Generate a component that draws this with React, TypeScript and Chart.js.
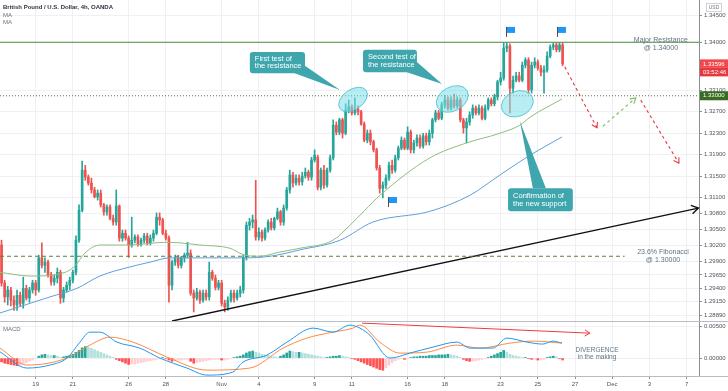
import React, { useEffect, useRef } from "react";
import { Chart, registerables } from "chart.js";

Chart.register(...registerables);

// ---------------- data ----------------
// candle index: 0 = Oct 19 00:00, six 4h bars per trading day
const firstCandle = -11;
// [open, high, low, close]
const candles: number[][] = [
  [1.3021, 1.3030, 1.2944, 1.2950], [1.2950, 1.2955, 1.2914, 1.2924], [1.2924, 1.2944, 1.2909, 1.2937],
  [1.2937, 1.2942, 1.2907, 1.2918], [1.2918, 1.2926, 1.2899, 1.2909], [1.2909, 1.2937, 1.2899, 1.2927],
  [1.2927, 1.2933, 1.2907, 1.2912], [1.2912, 1.2961, 1.2903, 1.2940], [1.2940, 1.2946, 1.2918, 1.2922],
  [1.2922, 1.2942, 1.2914, 1.2937], [1.2937, 1.2955, 1.2931, 1.2950],
  // Oct 19
  [1.2950, 1.2955, 1.2927, 1.2937], [1.2937, 1.3002, 1.2933, 1.2997], [1.2997, 1.3025, 1.2978, 1.2983],
  [1.2983, 1.2997, 1.2970, 1.2989], [1.2989, 1.2993, 1.2961, 1.2965], [1.2965, 1.2970, 1.2946, 1.2952],
  [1.2952, 1.2965, 1.2946, 1.2959], [1.2959, 1.2978, 1.2950, 1.2970], [1.2970, 1.2974, 1.2912, 1.2922],
  [1.2922, 1.2942, 1.2914, 1.2937], [1.2937, 1.2952, 1.2933, 1.2946], [1.2946, 1.2961, 1.2937, 1.2955],
  // Oct 21
  [1.2955, 1.2974, 1.2950, 1.2970], [1.2970, 1.3038, 1.2965, 1.3030], [1.3030, 1.3096, 1.3026, 1.3086],
  [1.3086, 1.3178, 1.3083, 1.3161], [1.3161, 1.3170, 1.3142, 1.3148], [1.3148, 1.3152, 1.3133, 1.3137],
  [1.3137, 1.3146, 1.3118, 1.3124], [1.3124, 1.3129, 1.3109, 1.3111], [1.3111, 1.3124, 1.3105, 1.3118],
  [1.3118, 1.3124, 1.3092, 1.3096], [1.3096, 1.3099, 1.3077, 1.3083], [1.3083, 1.3096, 1.3077, 1.3092],
  [1.3092, 1.3096, 1.3068, 1.3071], [1.3071, 1.3077, 1.3058, 1.3064], [1.3064, 1.3124, 1.3058, 1.3094],
  [1.3094, 1.3096, 1.3028, 1.3034], [1.3034, 1.3049, 1.3028, 1.3043], [1.3043, 1.3049, 1.3030, 1.3034],
  // Oct 26
  [1.3034, 1.3038, 1.2998, 1.3021], [1.3021, 1.3073, 1.3017, 1.3030], [1.3030, 1.3040, 1.3025, 1.3036],
  [1.3036, 1.3040, 1.3019, 1.3023], [1.3023, 1.3034, 1.3019, 1.3030], [1.3030, 1.3043, 1.3025, 1.3038],
  [1.3038, 1.3043, 1.3021, 1.3025], [1.3025, 1.3040, 1.3021, 1.3034], [1.3034, 1.3049, 1.3028, 1.3043],
  [1.3043, 1.3081, 1.3040, 1.3073], [1.3073, 1.3081, 1.3058, 1.3068], [1.3068, 1.3071, 1.3040, 1.3043],
  // Oct 28
  [1.3043, 1.3049, 1.3030, 1.3034], [1.3034, 1.3038, 1.2914, 1.2946], [1.2946, 1.2993, 1.2937, 1.2989],
  [1.2989, 1.3002, 1.2983, 1.2997], [1.2997, 1.3002, 1.2978, 1.2983], [1.2983, 1.3000, 1.2978, 1.2997],
  [1.2997, 1.3006, 1.2989, 1.3002], [1.3002, 1.3026, 1.2997, 1.3006], [1.3006, 1.3012, 1.2927, 1.2931],
  [1.2931, 1.2937, 1.2896, 1.2922], [1.2922, 1.2940, 1.2918, 1.2933], [1.2933, 1.2937, 1.2912, 1.2918],
  [1.2918, 1.2937, 1.2914, 1.2931], [1.2931, 1.2937, 1.2918, 1.2924], [1.2924, 1.2989, 1.2918, 1.2970],
  [1.2970, 1.2974, 1.2955, 1.2959], [1.2959, 1.2965, 1.2937, 1.2942], [1.2942, 1.2955, 1.2937, 1.2950],
  // Nov 2
  [1.2950, 1.2955, 1.2907, 1.2912], [1.2912, 1.2918, 1.2896, 1.2905], [1.2905, 1.2924, 1.2899, 1.2918],
  [1.2918, 1.2937, 1.2914, 1.2931], [1.2931, 1.2937, 1.2914, 1.2922], [1.2922, 1.2937, 1.2918, 1.2931],
  [1.2931, 1.2944, 1.2924, 1.2937], [1.2937, 1.3002, 1.2931, 1.2998], [1.2998, 1.3064, 1.2993, 1.3058],
  [1.3058, 1.3071, 1.3049, 1.3064], [1.3064, 1.3077, 1.3053, 1.3068], [1.3068, 1.3142, 1.3030, 1.3036],
  // Nov 4
  [1.3036, 1.3053, 1.3030, 1.3045], [1.3045, 1.3049, 1.3028, 1.3034], [1.3034, 1.3053, 1.3030, 1.3049],
  [1.3049, 1.3068, 1.3045, 1.3064], [1.3064, 1.3071, 1.3049, 1.3053], [1.3053, 1.3073, 1.3049, 1.3071],
  [1.3071, 1.3090, 1.3068, 1.3083], [1.3083, 1.3086, 1.3058, 1.3064], [1.3064, 1.3096, 1.3058, 1.3090],
  [1.3090, 1.3129, 1.3086, 1.3124], [1.3124, 1.3161, 1.3118, 1.3152], [1.3152, 1.3157, 1.3129, 1.3137],
  [1.3137, 1.3152, 1.3133, 1.3146], [1.3146, 1.3152, 1.3133, 1.3139], [1.3139, 1.3157, 1.3133, 1.3150],
  [1.3150, 1.3165, 1.3146, 1.3157], [1.3157, 1.3161, 1.3142, 1.3148], [1.3148, 1.3185, 1.3142, 1.3180],
  // Nov 9
  [1.3180, 1.3199, 1.3176, 1.3189], [1.3185, 1.3189, 1.3124, 1.3129], [1.3129, 1.3165, 1.3124, 1.3161],
  [1.3161, 1.3170, 1.3127, 1.3133], [1.3133, 1.3165, 1.3129, 1.3161], [1.3161, 1.3189, 1.3157, 1.3184],
  [1.3184, 1.3255, 1.3180, 1.3245], [1.3245, 1.3251, 1.3227, 1.3232], [1.3232, 1.3258, 1.3227, 1.3255],
  [1.3255, 1.3258, 1.3221, 1.3230], [1.3230, 1.3285, 1.3227, 1.3273], [1.3273, 1.3292, 1.3268, 1.3279],
  // Nov 11
  [1.3279, 1.3283, 1.3264, 1.3268], [1.3268, 1.3296, 1.3264, 1.3275], [1.3275, 1.3281, 1.3264, 1.3270],
  [1.3270, 1.3273, 1.3245, 1.3247], [1.3247, 1.3251, 1.3214, 1.3217], [1.3217, 1.3236, 1.3212, 1.3230],
  [1.3230, 1.3236, 1.3208, 1.3214], [1.3214, 1.3217, 1.3195, 1.3199], [1.3199, 1.3202, 1.3161, 1.3165],
  [1.3165, 1.3170, 1.3118, 1.3127], [1.3127, 1.3139, 1.3109, 1.3133], [1.3133, 1.3152, 1.3127, 1.3146],
  [1.3146, 1.3176, 1.3142, 1.3170], [1.3170, 1.3180, 1.3155, 1.3161], [1.3161, 1.3189, 1.3157, 1.3184],
  [1.3184, 1.3206, 1.3180, 1.3202], [1.3202, 1.3223, 1.3199, 1.3217], [1.3217, 1.3221, 1.3199, 1.3202],
  // Nov 16
  [1.3202, 1.3242, 1.3199, 1.3232], [1.3232, 1.3236, 1.3193, 1.3199], [1.3199, 1.3217, 1.3193, 1.3212],
  [1.3212, 1.3227, 1.3206, 1.3221], [1.3221, 1.3227, 1.3202, 1.3206], [1.3206, 1.3230, 1.3202, 1.3225],
  [1.3225, 1.3230, 1.3208, 1.3214], [1.3214, 1.3236, 1.3208, 1.3230], [1.3230, 1.3258, 1.3221, 1.3255],
  [1.3255, 1.3273, 1.3251, 1.3268], [1.3268, 1.3273, 1.3255, 1.3258], [1.3258, 1.3288, 1.3255, 1.3283],
  // Nov 18
  [1.3283, 1.3301, 1.3277, 1.3292], [1.3292, 1.3298, 1.3273, 1.3277], [1.3277, 1.3298, 1.3273, 1.3292],
  [1.3292, 1.3303, 1.3277, 1.3281], [1.3281, 1.3298, 1.3277, 1.3292], [1.3292, 1.3296, 1.3251, 1.3255],
  [1.3255, 1.3258, 1.3230, 1.3240], [1.3240, 1.3258, 1.3212, 1.3251], [1.3251, 1.3270, 1.3245, 1.3264],
  [1.3264, 1.3283, 1.3258, 1.3277], [1.3277, 1.3281, 1.3264, 1.3268], [1.3268, 1.3283, 1.3264, 1.3277],
  [1.3277, 1.3281, 1.3255, 1.3258], [1.3258, 1.3283, 1.3255, 1.3277], [1.3277, 1.3296, 1.3273, 1.3292],
  [1.3292, 1.3296, 1.3281, 1.3285], [1.3285, 1.3303, 1.3281, 1.3298], [1.3298, 1.3329, 1.3292, 1.3326],
  // Nov 23
  [1.3326, 1.3344, 1.3320, 1.3333], [1.3333, 1.3399, 1.3329, 1.3389], [1.3389, 1.3399, 1.3382, 1.3393],
  [1.3393, 1.3397, 1.3268, 1.3314], [1.3314, 1.3337, 1.3305, 1.3329], [1.3329, 1.3344, 1.3326, 1.3337],
  [1.3337, 1.3344, 1.3326, 1.3329], [1.3329, 1.3363, 1.3326, 1.3357], [1.3357, 1.3371, 1.3352, 1.3367],
  [1.3367, 1.3371, 1.3305, 1.3311], [1.3311, 1.3363, 1.3305, 1.3357], [1.3357, 1.3371, 1.3352, 1.3363],
  // Nov 25
  [1.3363, 1.3367, 1.3348, 1.3352], [1.3352, 1.3357, 1.3337, 1.3344], [1.3344, 1.3356, 1.3305, 1.3348],
  [1.3348, 1.3382, 1.3344, 1.3374], [1.3374, 1.3395, 1.3371, 1.3391], [1.3391, 1.3399, 1.3386, 1.3395],
  [1.3395, 1.3399, 1.3382, 1.3386], [1.3386, 1.3399, 1.3382, 1.3395], [1.3395, 1.3399, 1.3356, 1.33596],
];

// moving averages: [candle index, price]
const maFast: number[][] = [
  [-11.5, 1.2970], [-1.8, 1.2963], [9.5, 1.2970], [12.7, 1.2982], [15.9, 1.3006], [20.7, 1.3021],
  [30.4, 1.3021], [41.7, 1.3026], [46.5, 1.3025], [53, 1.3021], [62.7, 1.3015], [67.5, 1.3002],
  [72.4, 1.3000], [78.8, 1.3008], [85.3, 1.3015], [95.9, 1.3030], [101.4, 1.3058], [106.2, 1.3086],
  [111.1, 1.3114], [127.2, 1.3184], [139.1, 1.3212], [149.8, 1.3230], [156.2, 1.3245], [159.5, 1.3260],
  [169.8, 1.3294],
];
const maSlow: number[][] = [
  [-11.5, 1.2894], [4.6, 1.2924], [13.3, 1.2940], [20.7, 1.2963], [30.4, 1.2980], [36.9, 1.2989],
  [43.3, 1.2997], [67.5, 1.2997], [75.6, 1.3000], [85.3, 1.3012], [98.2, 1.3030], [108.8, 1.3064],
  [127.2, 1.3084], [140.1, 1.3114], [149.8, 1.3152], [159.5, 1.3189], [169.8, 1.3223],
];

// MACD panel
const macdLine: number[][] = [
  [-11.5, 0.00098], [-2.8, -0.00156], [4.6, -0.00109], [10.1, 0], [14.3, 0.0025], [17.5, 0.00406],
  [20.7, 0.00406], [26.2, 0.0025], [33.6, 0.00156], [40.1, 0], [48.8, -0.00156], [55.3, -0.00266],
  [63.6, -0.00219], [66.9, -0.00063], [74.6, 0.00047], [81.1, 0.0025], [89.5, 0.00469], [95.9, 0.00406],
  [101.4, 0.00516], [104.6, 0.00469], [107.8, 0.00359], [114.3, 0], [120.7, 0.00078], [128.2, 0.00172],
  [135.9, 0.0025], [140.1, 0.00156], [147.5, 0.00156], [152, 0.00313], [158.5, 0.0025], [163.6, 0.00219],
  [166.9, 0.00266], [169.8, 0.00234],
];
const signalLine: number[][] = [
  [-11.5, 0.00156], [-2.8, -0.00109], [10.1, 0], [17.5, 0.00203], [24, 0.00328], [31.4, 0.0025],
  [42.4, 0.00016], [55.3, -0.00188], [69.1, -0.00156], [79.8, 0.00156], [87.5, 0.00313], [95.9, 0.00406],
  [102.4, 0.00469], [104.6, 0.00516], [111, 0.0025], [117.5, 0.00078], [126.3, 0.00094], [135.9, 0.00203],
  [143.3, 0.00156], [153, 0.00234], [160.4, 0.00266], [169.8, 0.00234],
];
const macdHist: number[] = [
  -0.0006, -0.0008, -0.0009, -0.0010, -0.0011, -0.0012, -0.0011, -0.0009, -0.0007, -0.0005, -0.0003, -0.0001,
  0.0003, 0.0005, 0.0006, 0.0005, 0.0004, 0.0004, 0.0003, 0.0001, 0.0002, 0.0003, 0.0004, 0.0006,
  0.0009, 0.0012, 0.0016, 0.0018, 0.0017, 0.0015, 0.0013, 0.0011, 0.0009, 0.0007, 0.0005, 0.0003, 0.0001,
  -0.0002, -0.0004, -0.0006, -0.0008, -0.0010,
  -0.0009, -0.0009, -0.0008, -0.0007, -0.0006, -0.0005, -0.0004, -0.0003, -0.0002, -0.0001,
  0.0001, -0.0001, -0.0003, -0.0005, -0.0004, -0.0003, -0.0003, -0.0002, -0.0002,
  -0.0005, -0.0008, -0.0007, -0.0006, -0.0005, -0.0004, -0.0003, -0.0002,
  -0.0002, -0.0002, -0.0003, -0.0003, -0.0002, -0.0001, 0.0001,
  0.0002, 0.0003, 0.0005, 0.0008, 0.0010, 0.0011,
  0.0009, 0.0008, 0.0006, 0.0005, 0.0004, 0.0003, 0.0002, 0.0001,
  0.0003, 0.0005, 0.0008, 0.0011,
  0.0010, 0.0009, 0.0009, 0.0008, 0.0007, 0.0006, 0.0005, 0.0004, 0.0003, 0.0002, 0.0001,
  0.0001, 0.0002, 0.0003, 0.0003, 0.0004, 0.0003, 0.0002, 0.0001,
  -0.0001, -0.0002, -0.0004, -0.0006, -0.0008, -0.0010, -0.0012, -0.0014, -0.0016, -0.0018, -0.0019,
  -0.0015, -0.0011, -0.0007, -0.0004, -0.0002, -0.0001, -0.0002, -0.0001,
  0.0001, 0.0002, 0.0002, 0.0003, 0.0003, 0.0003, 0.0004, 0.0004, 0.0004, 0.0005, 0.0005, 0.0005, 0.0006,
  0.0005, 0.0004, 0.0003, 0.0001,
  -0.0002, -0.0004, -0.0005, -0.0005, -0.0004, -0.0003, -0.0002, -0.0001,
  0.0001, 0.0003, 0.0005, 0.0007, 0.0009, 0.0012,
  0.0009, 0.0006, 0.0004, 0.0003, 0.0002, 0.0001, 0.0001, -0.0001,
  -0.0002, -0.0002, -0.0003, -0.0003, -0.0002, 0.0001, 0.0002, 0.0003, 0.0002, -0.0001, -0.0003,
];

const dateTickIndex = [0, 12, 30, 42, 60, 72, 90, 102, 120, 132, 150, 162, 174, 186, 198, 210];
const dateTickLabels = ["19", "21", "26", "28", "Nov", "4", "9", "11", "16", "18", "23", "25", "27", "Dec", "3", "7"];
const priceTicks = [1.345, 1.34, 1.331, 1.327, 1.323, 1.319, 1.315, 1.311, 1.308, 1.305, 1.302, 1.299, 1.2965, 1.294, 1.2915, 1.2889];
const priceTickLabels = ["1.34500", "1.34000", "1.33100", "1.32700", "1.32300", "1.31900", "1.31500", "1.31100", "1.30800", "1.30500", "1.30200", "1.29900", "1.29650", "1.29400", "1.29150", "1.28890"];
const macdTicks = [0.005, 0];
const macdTickLabels = ["0.00500", "0.00000"];

const lastPrice = 1.33596;
const lastPriceLabel = "1.33596";
const countdownLabel = "03:52:46";
const resistanceLevel = 1.34;
const supportLevel = 1.33;
const supportLabel = "1.33000";
const fibLevel = 1.3;

const trendLine: number[][] = [[44, 1.2879], [213.8, 1.309]];
const projDown1: number[][] = [[170.7, 1.3354], [181.1, 1.324]];
const projUp: number[][] = [[183.0, 1.3243], [193.6, 1.3296]];
const projDown2: number[][] = [[195.2, 1.3292], [207.5, 1.3174]];
const divergenceLine: number[][] = [[105.3, 0.00547], [178.8, 0.0039]];

// ---------------- view ----------------
const X_MIN = -11.5;
const X_MAX = 214;
const Y_MIN = 1.2879;
const Y_MAX = 1.3479;
const M_MIN = -0.0028;
const M_MAX = 0.0058;
const FONT = '"Liberation Sans", Arial, sans-serif';
const UP = "#26a69a";
const DOWN = "#ef5350";
const GRID = "#eef0f4";
const AXIS = "#8a8e97";
const NOTE = "#5f7383";
const CALLOUT = "#3fa6ae";

const ellipses = [
  { c: 102.4, p: 1.3293, rx: 16, ry: 10, rot: -0.6 },
  { c: 134.4, p: 1.3294, rx: 17, ry: 12, rot: -0.5 },
  { c: 155.4, p: 1.3285, rx: 16.5, ry: 12.5, rot: -0.4 },
];
const callouts = [
  { x0: 69.1, x1: 86.9, y0: 1.3382, y1: 1.3342, tail: [[83.6, 1.3342], [86.9, 1.3356], [98.2, 1.3311]], lines: ["First test of", "the resistance"] },
  { x0: 105.6, x1: 123.0, y0: 1.3386, y1: 1.3344, tail: [[119.8, 1.3344], [123.0, 1.3363], [131.1, 1.3322]], lines: ["Second test of", "the resistance"] },
  { x0: 152.4, x1: 173.3, y0: 1.3127, y1: 1.3084, tail: [[160.4, 1.3127], [164.6, 1.3127], [156.2, 1.3253]], lines: ["Confirmation of", "the new support"] },
];
const flags = [
  { c: 113.6, p: 1.3092 },
  { c: 151.7, p: 1.341 },
  { c: 168.2, p: 1.341 },
];
const notes = [
  { c: 201.7, p: 1.3404, text: "Major Resistance" },
  { c: 201.7, p: 1.339, text: "@ 1.34000" },
  { c: 202.4, p: 1.3008, text: "23.6% Fibonacci" },
  { c: 202.4, p: 1.2993, text: "@ 1.30000" },
];

function arrowHead(ctx: any, x1: number, y1: number, x2: number, y2: number, len: number, color: string, lw: number) {
  const a = Math.atan2(y2 - y1, x2 - x1);
  ctx.save();
  ctx.setLineDash([]);
  ctx.strokeStyle = color;
  ctx.lineWidth = lw;
  ctx.beginPath();
  ctx.moveTo(x2 - len * Math.cos(a - 0.55), y2 - len * Math.sin(a - 0.55));
  ctx.lineTo(x2, y2);
  ctx.lineTo(x2 - len * Math.cos(a + 0.55), y2 - len * Math.sin(a + 0.55));
  ctx.stroke();
  ctx.restore();
}

function roundRect(ctx: any, x: number, y: number, w: number, h: number, r: number) {
  ctx.beginPath();
  ctx.moveTo(x + r, y);
  ctx.lineTo(x + w - r, y);
  ctx.quadraticCurveTo(x + w, y, x + w, y + r);
  ctx.lineTo(x + w, y + h - r);
  ctx.quadraticCurveTo(x + w, y + h, x + w - r, y + h);
  ctx.lineTo(x + r, y + h);
  ctx.quadraticCurveTo(x, y + h, x, y + h - r);
  ctx.lineTo(x, y + r);
  ctx.quadraticCurveTo(x, y, x + r, y);
  ctx.closePath();
}

const noPad = (s: any) => {
  s.paddingTop = 0;
  s.paddingBottom = 0;
  s.paddingLeft = 0;
  s.paddingRight = 0;
};

const mainPlugin = {
  id: "mainNotes",
  afterDatasetsDraw(chart: any) {
    const { ctx, scales } = chart;
    const X = (v: number) => scales.x.getPixelForValue(v);
    const Y = (v: number) => scales.y.getPixelForValue(v);

    // arrow heads
    const arrows: [number[][], string, number, number][] = [
      [trendLine, "#111", 1.4, 8],
      [projDown1, "#e8383d", 1.1, 6],
      [projUp, "#7dbb5f", 1.1, 6],
      [projDown2, "#e8383d", 1.1, 6],
    ];
    arrows.forEach(([p, col, lw, len]) => {
      arrowHead(ctx, X(p[0][0]), Y(p[0][1]), X(p[1][0]), Y(p[1][1]), len, col, lw);
    });

    // ellipses
    ellipses.forEach((e) => {
      ctx.save();
      ctx.beginPath();
      ctx.ellipse(X(e.c), Y(e.p), e.rx, e.ry, e.rot, 0, Math.PI * 2);
      ctx.fillStyle = "rgba(125, 224, 234, 0.55)";
      ctx.fill();
      ctx.strokeStyle = "rgba(80, 196, 210, 0.9)";
      ctx.lineWidth = 1;
      ctx.stroke();
      ctx.restore();
    });

    // callouts
    callouts.forEach((co) => {
      const l = X(co.x0), r = X(co.x1), t = Y(co.y0), b = Y(co.y1);
      ctx.save();
      ctx.fillStyle = CALLOUT;
      roundRect(ctx, l, t, r - l, b - t, 3);
      ctx.fill();
      ctx.beginPath();
      ctx.moveTo(X(co.tail[0][0]), Y(co.tail[0][1]));
      ctx.lineTo(X(co.tail[1][0]), Y(co.tail[1][1]));
      ctx.lineTo(X(co.tail[2][0]), Y(co.tail[2][1]));
      ctx.closePath();
      ctx.fill();
      ctx.fillStyle = "#ffffff";
      ctx.font = `7.5px ${FONT}`;
      ctx.textBaseline = "middle";
      ctx.textAlign = "left";
      const mid = (t + b) / 2;
      ctx.fillText(co.lines[0], l + 5, mid - 3.8);
      ctx.fillText(co.lines[1], l + 5, mid + 3.8);
      ctx.restore();
    });

    // flags
    flags.forEach((f) => {
      const x = Math.round(X(f.c)) + 0.5, y = Y(f.p);
      ctx.save();
      ctx.strokeStyle = "#4a4f5a";
      ctx.lineWidth = 1;
      ctx.beginPath();
      ctx.moveTo(x, y);
      ctx.lineTo(x, y - 10);
      ctx.stroke();
      ctx.fillStyle = "#2196f3";
      ctx.fillRect(x + 0.5, y - 10, 8, 6);
      ctx.restore();
    });

    // notes
    ctx.save();
    ctx.fillStyle = NOTE;
    ctx.font = `7px ${FONT}`;
    ctx.textAlign = "center";
    ctx.textBaseline = "middle";
    notes.forEach((n) => ctx.fillText(n.text, X(n.c), Y(n.p)));
    ctx.restore();
  },
  afterDraw(chart: any) {
    const { ctx, scales } = chart;
    const Y = (v: number) => scales.y.getPixelForValue(v);
    ctx.save();
    // title
    ctx.textAlign = "left";
    ctx.textBaseline = "middle";
    ctx.fillStyle = "#2f3340";
    ctx.font = `bold 6px ${FONT}`;
    ctx.fillText("British Pound / U.S. Dollar, 4h, OANDA", 3, 7);
    ctx.fillStyle = "#6a6f7a";
    ctx.font = `6px ${FONT}`;
    ctx.fillText("MA", 3, 15);
    ctx.fillText("MA", 3, 22.5);

    // USD
    ctx.strokeStyle = "#cfd3da";
    ctx.lineWidth = 1;
    ctx.strokeRect(706.5, 3.5, 15, 8);
    ctx.fillStyle = "#777";
    ctx.font = `5px ${FONT}`;
    ctx.textAlign = "center";
    ctx.fillText("USD", 714, 7.8);

    // last price label
    const ly = Y(lastPrice);
    ctx.fillStyle = "#f0484e";
    ctx.fillRect(700, ly - 4.5, 28, 8.5);
    ctx.fillStyle = "#e5393f";
    ctx.fillRect(700, ly + 4, 28, 8.5);
    ctx.fillStyle = "#ffffff";
    ctx.font = `6px ${FONT}`;
    ctx.textAlign = "left";
    ctx.fillText(lastPriceLabel, 703, ly);
    ctx.fillText(countdownLabel, 703, ly + 8.3);

    // support label
    const sy = Y(supportLevel);
    ctx.fillStyle = "#3a6b22";
    ctx.fillRect(700, sy - 4.5, 28, 9);
    ctx.fillStyle = "#ffffff";
    ctx.fillText(supportLabel, 703, sy);
    ctx.restore();
  },
};

const macdPlugin = {
  id: "macdNotes",
  afterDatasetsDraw(chart: any) {
    const { ctx, scales } = chart;
    const X = (v: number) => scales.x.getPixelForValue(v);
    const Y = (v: number) => scales.y.getPixelForValue(v);
    const d = divergenceLine;
    arrowHead(ctx, X(d[0][0]), Y(d[0][1]), X(d[1][0]), Y(d[1][1]), 6, "#ef3b43", 1);
    ctx.save();
    ctx.fillStyle = NOTE;
    ctx.font = `6.5px ${FONT}`;
    ctx.textAlign = "center";
    ctx.textBaseline = "middle";
    ctx.fillText("DIVERGENCE", X(181.1), Y(0.00125));
    ctx.fillText("in the making", X(181.1), Y(0.00009));
    ctx.textAlign = "left";
    ctx.fillStyle = "#6a6f7a";
    ctx.font = `6px ${FONT}`;
    ctx.fillText("MACD", 3, 8);
    ctx.restore();
  },
  afterDraw(chart: any) {
    const { ctx, chartArea } = chart;
    ctx.save();
    ctx.strokeStyle = "#b7bbc4";
    ctx.lineWidth = 1;
    ctx.beginPath();
    ctx.moveTo(0, 0.5);
    ctx.lineTo(728, 0.5);
    ctx.moveTo(0, Math.round(chartArea.bottom) + 0.5);
    ctx.lineTo(728, Math.round(chartArea.bottom) + 0.5);
    ctx.stroke();
    ctx.restore();
  },
};

const pts = (arr: number[][]) => arr.map(([x, y]) => ({ x, y }));

export default function App() {
  const mainRef = useRef<HTMLCanvasElement>(null);
  const macdRef = useRef<HTMLCanvasElement>(null);

  useEffect(() => {
    document.body.style.margin = "0";
    const colors = candles.map((k) => (k[3] >= k[0] ? UP : DOWN));
    const histColors = macdHist.map((v, i) => {
      const prev = i > 0 ? macdHist[i - 1] : 0;
      if (v >= 0) return v >= prev ? "#26a69a" : "#b2dfdb";
      return v < prev ? "#ff5252" : "#ffcdd2";
    });

    const lineDs = (data: any, color: string, width: number, extra: any = {}) => ({
      type: "line",
      data,
      borderColor: color,
      borderWidth: width,
      pointRadius: 0,
      fill: false,
      order: 0,
      ...extra,
    });

    const main = new Chart(mainRef.current as HTMLCanvasElement, {
      type: "bar",
      data: {
        datasets: [
          lineDs(pts(maFast), "#8fbd7c", 1, { cubicInterpolationMode: "monotone" }),
          lineDs(pts(maSlow), "#5f9fdc", 1, { cubicInterpolationMode: "monotone" }),
          lineDs([{ x: X_MIN, y: resistanceLevel }, { x: X_MAX, y: resistanceLevel }], "#4f8a3f", 1),
          lineDs([{ x: X_MIN, y: supportLevel }, { x: X_MAX, y: supportLevel }], "#55703a", 1, { borderDash: [1, 2] }),
          lineDs([{ x: X_MIN, y: fibLevel }, { x: 190, y: fibLevel }], "#5d7d40", 1, { borderDash: [4, 3] }),
          lineDs(pts(trendLine), "#111111", 1.4),
          lineDs(pts(projDown1), "#e8383d", 1.1, { borderDash: [3, 3] }),
          lineDs(pts(projUp), "#7dbb5f", 1.1, { borderDash: [3, 3] }),
          lineDs(pts(projDown2), "#e8383d", 1.1, { borderDash: [3, 3] }),
          {
            type: "bar",
            data: candles.map((k, i) => ({ x: firstCandle + i, y: [k[2], k[1]] })),
            backgroundColor: colors,
            barThickness: 1,
            grouped: false,
            order: 3,
          },
          {
            type: "bar",
            data: candles.map((k, i) => ({ x: firstCandle + i, y: [k[0], k[3]] })),
            backgroundColor: colors,
            barThickness: 2,
            minBarLength: 1,
            grouped: false,
            order: 2,
          },
        ] as any,
      },
      options: {
        responsive: false,
        animation: false,
        devicePixelRatio: 1,
        layout: { padding: 0 },
        plugins: { legend: { display: false }, tooltip: { enabled: false } },
        scales: {
          x: {
            type: "linear",
            min: X_MIN,
            max: X_MAX,
            offset: false,
            afterBuildTicks: (s: any) => {
              s.ticks = dateTickIndex.map((v) => ({ value: v }));
            },
            afterFit: (s: any) => {
              s.height = 0;
              noPad(s);
            },
            ticks: { display: false },
            grid: { color: GRID, drawTicks: false, offset: false },
            border: { display: false },
          },
          y: {
            type: "linear",
            position: "right",
            min: Y_MIN,
            max: Y_MAX,
            afterBuildTicks: (s: any) => {
              s.ticks = priceTicks.map((v) => ({ value: v }));
            },
            afterFit: (s: any) => {
              s.width = 29;
              noPad(s);
            },
            ticks: {
              autoSkip: false,
              padding: 2,
              color: "#50545e",
              font: { size: 6, family: FONT },
              callback: (_v: any, i: number) => priceTickLabels[i] ?? "",
            },
            grid: { color: GRID, tickColor: AXIS, tickLength: 3 },
            border: { color: AXIS },
          },
        },
      } as any,
      plugins: [mainPlugin],
    });

    const macd = new Chart(macdRef.current as HTMLCanvasElement, {
      type: "bar",
      data: {
        datasets: [
          lineDs(pts(macdLine), "#2196f3", 1, { cubicInterpolationMode: "monotone" }),
          lineDs(pts(signalLine), "#ff8a3d", 1, { cubicInterpolationMode: "monotone" }),
          lineDs(pts(divergenceLine), "#ef3b43", 1),
          {
            type: "bar",
            data: macdHist.map((v, i) => ({ x: firstCandle + i, y: v })),
            backgroundColor: histColors,
            barThickness: 2,
            grouped: false,
            order: 1,
          },
        ] as any,
      },
      options: {
        responsive: false,
        animation: false,
        devicePixelRatio: 1,
        layout: { padding: 0 },
        plugins: { legend: { display: false }, tooltip: { enabled: false } },
        scales: {
          x: {
            type: "linear",
            min: X_MIN,
            max: X_MAX,
            offset: false,
            afterBuildTicks: (s: any) => {
              s.ticks = dateTickIndex.map((v) => ({ value: v }));
            },
            afterFit: (s: any) => {
              s.height = 15;
              noPad(s);
            },
            ticks: {
              autoSkip: false,
              maxRotation: 0,
              padding: 2,
              color: "#50545e",
              font: { size: 6, family: FONT },
              callback: (_v: any, i: number) => dateTickLabels[i] ?? "",
            },
            grid: { color: GRID, tickColor: AXIS, tickLength: 3, offset: false },
            border: { color: AXIS },
          },
          y: {
            type: "linear",
            position: "right",
            min: M_MIN,
            max: M_MAX,
            afterBuildTicks: (s: any) => {
              s.ticks = macdTicks.map((v) => ({ value: v }));
            },
            afterFit: (s: any) => {
              s.width = 29;
              noPad(s);
            },
            ticks: {
              autoSkip: false,
              padding: 2,
              color: "#50545e",
              font: { size: 6, family: FONT },
              callback: (_v: any, i: number) => macdTickLabels[i] ?? "",
            },
            grid: { color: GRID, tickColor: AXIS, tickLength: 3 },
            border: { color: AXIS },
          },
        },
      } as any,
      plugins: [macdPlugin],
    });

    return () => {
      main.destroy();
      macd.destroy();
    };
  }, []);

  return (
    <div style={{ width: 728, height: 391, position: "relative", background: "#fff" }}>
      <style>{`body{margin:0;background:#fff}`}</style>
      <canvas ref={mainRef} width={728} height={321} style={{ display: "block", width: 728, height: 321 }} />
      <canvas ref={macdRef} width={728} height={70} style={{ display: "block", width: 728, height: 70 }} />
    </div>
  );
}
